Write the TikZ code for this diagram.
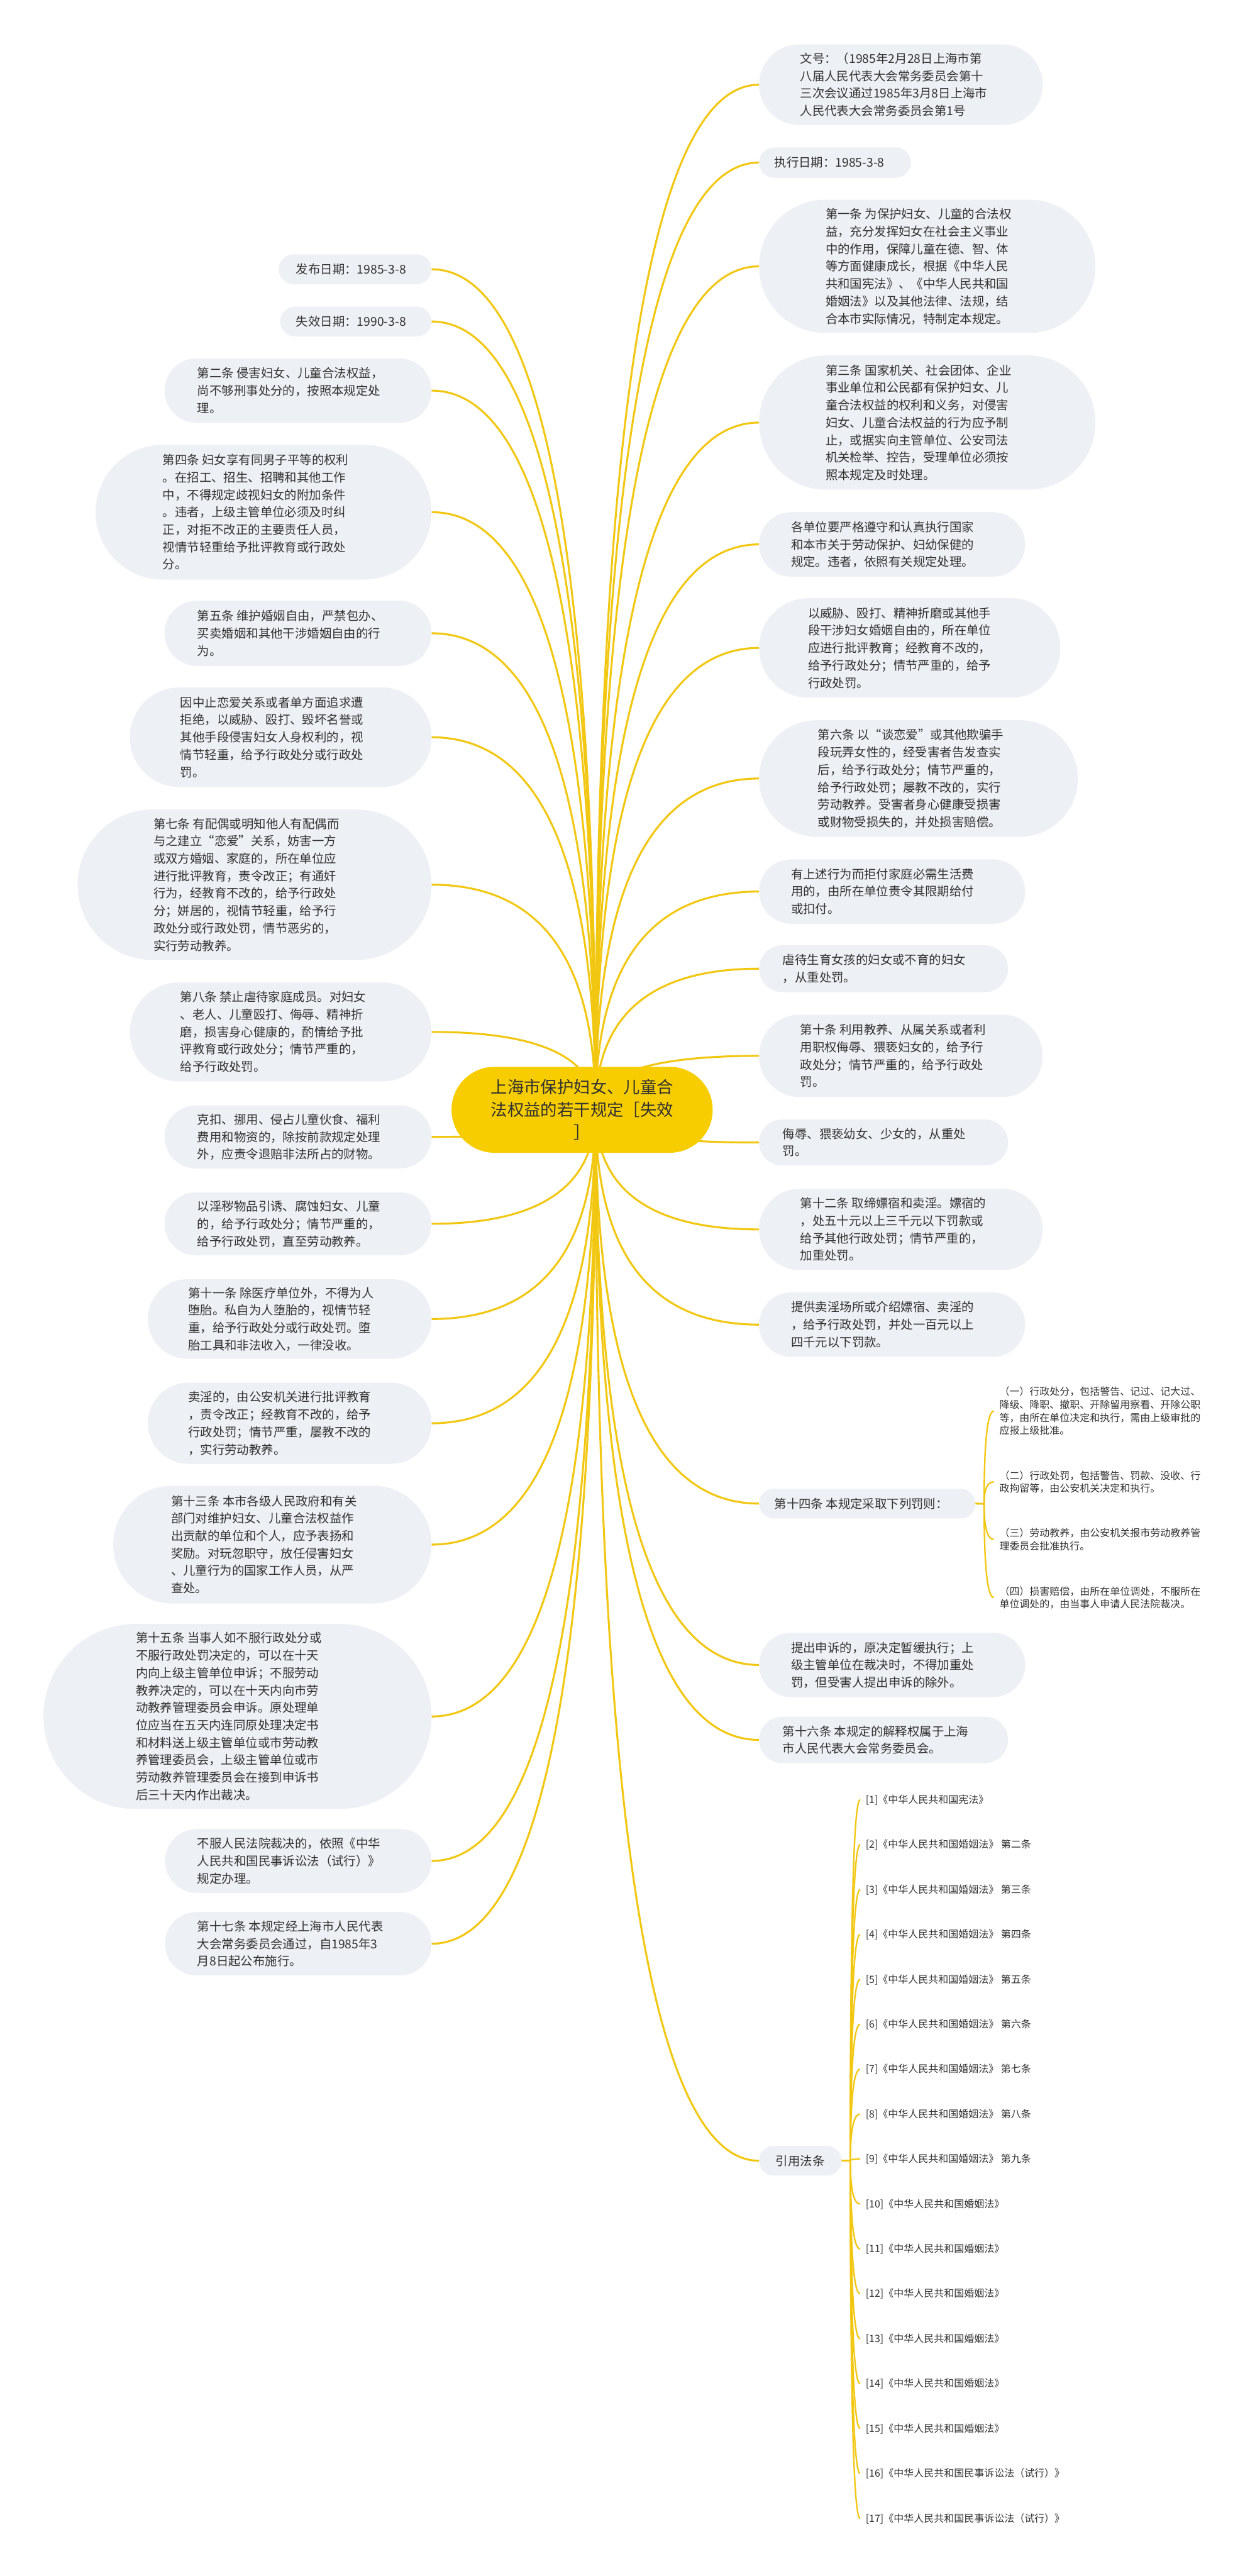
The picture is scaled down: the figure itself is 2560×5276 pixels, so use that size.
\documentclass[tikz,border=0pt]{standalone}
\usepackage{fontspec}
\setmainfont{Noto Sans CJK SC}
\usetikzlibrary{calc}
\definecolor{lnk}{RGB}{242,199,18}
\definecolor{rootfill}{RGB}{247,205,0}
\definecolor{boxc}{RGB}{237,240,244}
\definecolor{txtc}{RGB}{50,50,50}
\pgfdeclarelayer{back}
\pgfdeclarelayer{bg}
\pgfsetlayers{back,bg,main}
\tikzset{
  boxnode/.style={shape=rectangle,inner sep=0pt,outer sep=0pt},
  bodytext/.style={inner sep=0pt,align=left,text=txtc,font=\fontsize{12.5pt}{17.85pt}\selectfont},
  roottext/.style={inner sep=0pt,align=center,text=txtc,font=\fontsize{17pt}{23pt}\selectfont},
  smalltext/.style={inner xsep=5.5pt,inner ysep=0pt,align=left,text=txtc,font=\fontsize{10.3pt}{13.25pt}\selectfont,anchor=west},
  link/.style={draw=lnk,line width=2pt},
  sublink/.style={draw=lnk,line width=1.5pt},
}
\newcommand\tw[1]{\rule{0pt}{0.88em}#1\rule[-0.12em]{0pt}{0.12em}}
\newcommand\mbx[7]{%
  \pgfmathsetmacro\pbr{(#5-#3)*0.2495}%
  \node[boxnode,minimum width={(#4-#2)*0.5pt},minimum height={(#5-#3)*0.5pt}] (#1) at ({(#2+#4)/2},{(#3+#5)/2}) {};
  \fill[boxc,rounded corners=\pbr pt] (#1.south west) rectangle (#1.north east);
  \node[bodytext,anchor=west] (#1t) at (#6,{(#3+#5)/2}) {\tw{#7}};
}
\newcommand\lcn[1]{%
  \coordinate (q) at (R |- #1.east);
  \draw[link] (R) .. controls ($(R)!2/3!(q)$) and ($(#1.east)!2/3!(q)$) .. (#1.east);
}
\newcommand\rcn[1]{%
  \coordinate (q) at (R |- #1.west);
  \draw[link] (R) .. controls ($(R)!2/3!(q)$) and ($(#1.west)!2/3!(q)$) .. (#1.west);
}
\newcommand\bcn[3]{%
  \coordinate (q) at (#2 |- #3.west);
  \draw[sublink] (#1) -- (#2) .. controls ($(#2)!2/3!(q)$) and ($(#3.west)!2/3!(q)$) .. (#3.west);
}
\begin{document}
\begin{tikzpicture}[x=0.5pt,y=-0.5pt]
\useasboundingbox (0,0) rectangle (2560,5276);
\begin{pgfonlayer}{back}
\fill[white] (0,0) rectangle (2560,5276);
\end{pgfonlayer}

% root
\node[boxnode,minimum width=267.5pt,minimum height=88pt] (root) at (1192.5,2273) {};
\fill[rootfill,rounded corners=43.9pt] (root.south west) rectangle (root.north east);
\node[roottext] (roott) at (1192.5,2273) {\tw{上海市保护妇女、儿童合\\法权益的若干规定［失效\\］}};
\coordinate (R) at (1220,2273);

% left side
\mbx{l1}{571}{521}{884}{582}{606}{发布日期：1985-3-8}
\mbx{l2}{574}{628}{884}{689}{606}{失效日期：1990-3-8}
\mbx{l3}{337}{734}{884}{866}{404}{第二条 侵害妇女、儿童合法权益，\\尚不够刑事处分的，按照本规定处\\理。}
\mbx{l4}{196}{911}{884}{1187}{333}{第四条 妇女享有同男子平等的权利\\。在招工、招生、招聘和其他工作\\中，不得规定歧视妇女的附加条件\\。违者，上级主管单位必须及时纠\\正，对拒不改正的主要责任人员，\\视情节轻重给予批评教育或行政处\\分。}
\mbx{l5}{337}{1230}{884}{1364}{404}{第五条 维护婚姻自由，严禁包办、\\买卖婚姻和其他干涉婚姻自由的行\\为。}
\mbx{l6}{266}{1408}{884}{1612}{369}{因中止恋爱关系或者单方面追求遭\\拒绝，以威胁、殴打、毁坏名誉或\\其他手段侵害妇女人身权利的，视\\情节轻重，给予行政处分或行政处\\罚。}
\mbx{l7}{159}{1658}{884}{1966}{314}{第七条 有配偶或明知他人有配偶而\\与之建立“恋爱”关系，妨害一方\\或双方婚姻、家庭的，所在单位应\\进行批评教育，责令改正；有通奸\\行为，经教育不改的，给予行政处\\分；姘居的，视情节轻重，给予行\\政处分或行政处罚，情节恶劣的，\\实行劳动教养。}
\mbx{l8}{266}{2012}{884}{2215}{369}{第八条 禁止虐待家庭成员。对妇女\\、老人、儿童殴打、侮辱、精神折\\磨，损害身心健康的，酌情给予批\\评教育或行政处分；情节严重的，\\给予行政处罚。}
\mbx{l9}{337}{2264}{884}{2393}{404}{克扣、挪用、侵占儿童伙食、福利\\费用和物资的，除按前款规定处理\\外，应责令退赔非法所占的财物。}
\mbx{l10}{337}{2442}{884}{2571}{404}{以淫秽物品引诱、腐蚀妇女、儿童\\的，给予行政处分；情节严重的，\\给予行政处罚，直至劳动教养。}
\mbx{l11}{303}{2620}{884}{2783}{385}{第十一条 除医疗单位外，不得为人\\堕胎。私自为人堕胎的，视情节轻\\重，给予行政处分或行政处罚。堕\\胎工具和非法收入，一律没收。}
\mbx{l12}{303}{2832}{884}{2998}{385}{卖淫的，由公安机关进行批评教育\\，责令改正；经教育不改的，给予\\行政处罚；情节严重，屡教不改的\\，实行劳动教养。}
\mbx{l13}{232}{3043}{884}{3284}{350}{第十三条 本市各级人民政府和有关\\部门对维护妇女、儿童合法权益作\\出贡献的单位和个人，应予表扬和\\奖励。对玩忽职守，放任侵害妇女\\、儿童行为的国家工作人员，从严\\查处。}
\mbx{l14}{89}{3326}{884}{3705}{278}{第十五条 当事人如不服行政处分或\\不服行政处罚决定的，可以在十天\\内向上级主管单位申诉；不服劳动\\教养决定的，可以在十天内向市劳\\动教养管理委员会申诉。原处理单\\位应当在五天内连同原处理决定书\\和材料送上级主管单位或市劳动教\\养管理委员会，上级主管单位或市\\劳动教养管理委员会在接到申诉书\\后三十天内作出裁决。}
\mbx{l15}{338}{3746}{884}{3877}{404}{不服人民法院裁决的，依照《中华\\人民共和国民事诉讼法（试行）》\\规定办理。}
\mbx{l16}{338}{3916}{884}{4046}{404}{第十七条 本规定经上海市人民代表\\大会常务委员会通过，自1985年3\\月8日起公布施行。}

% right side
\mbx{r1}{1555}{91}{2136}{256}{1639}{文号：（1985年2月28日上海市第\\八届人民代表大会常务委员会第十\\三次会议通过1985年3月8日上海市\\人民代表大会常务委员会第1号}
\mbx{r2}{1555}{302}{1866}{364}{1586}{执行日期：1985-3-8}
\mbx{r3}{1555}{409}{2244}{682}{1691}{第一条 为保护妇女、儿童的合法权\\益，充分发挥妇女在社会主义事业\\中的作用，保障儿童在德、智、体\\等方面健康成长，根据《中华人民\\共和国宪法》、《中华人民共和国\\婚姻法》以及其他法律、法规，结\\合本市实际情况，特制定本规定。}
\mbx{r4}{1555}{728}{2244}{1003}{1691}{第三条 国家机关、社会团体、企业\\事业单位和公民都有保护妇女、儿\\童合法权益的权利和义务，对侵害\\妇女、儿童合法权益的行为应予制\\止，或据实向主管单位、公安司法\\机关检举、控告，受理单位必须按\\照本规定及时处理。}
\mbx{r5}{1555}{1049}{2100}{1181}{1620}{各单位要严格遵守和认真执行国家\\和本市关于劳动保护、妇幼保健的\\规定。违者，依照有关规定处理。}
\mbx{r6}{1555}{1225}{2172}{1429}{1655}{以威胁、殴打、精神折磨或其他手\\段干涉妇女婚姻自由的，所在单位\\应进行批评教育；经教育不改的，\\给予行政处分；情节严重的，给予\\行政处罚。}
\mbx{r7}{1555}{1475}{2208}{1714}{1675}{第六条 以“谈恋爱”或其他欺骗手\\段玩弄女性的，经受害者告发查实\\后，给予行政处分；情节严重的，\\给予行政处罚；屡教不改的，实行\\劳动教养。受害者身心健康受损害\\或财物受损失的，并处损害赔偿。}
\mbx{r8}{1555}{1760}{2100}{1892}{1620}{有上述行为而拒付家庭必需生活费\\用的，由所在单位责令其限期给付\\或扣付。}
\mbx{r9}{1555}{1936}{2065}{2032}{1603}{虐待生育女孩的妇女或不育的妇女\\，从重处罚。}
\mbx{r10}{1555}{2078}{2136}{2247}{1639}{第十条 利用教养、从属关系或者利\\用职权侮辱、猥亵妇女的，给予行\\政处分；情节严重的，给予行政处\\罚。}
\mbx{r11}{1555}{2293}{2065}{2387}{1603}{侮辱、猥亵幼女、少女的，从重处\\罚。}
\mbx{r12}{1555}{2435}{2136}{2601}{1639}{第十二条 取缔嫖宿和卖淫。嫖宿的\\，处五十元以上三千元以下罚款或\\给予其他行政处罚；情节严重的，\\加重处罚。}
\mbx{r13}{1555}{2647}{2100}{2779}{1620}{提供卖淫场所或介绍嫖宿、卖淫的\\，给予行政处罚，并处一百元以上\\四千元以下罚款。}
\mbx{r14}{1555}{3049}{1998}{3110}{1586}{第十四条 本规定采取下列罚则：}
\mbx{r15}{1555}{3344}{2100}{3476}{1620}{提出申诉的，原决定暂缓执行；上\\级主管单位在裁决时，不得加重处\\罚，但受害人提出申诉的除外。}
\mbx{r16}{1555}{3516}{2065}{3611}{1603}{第十六条 本规定的解释权属于上海\\市人民代表大会常务委员会。}
\mbx{r17}{1555}{4395}{1724}{4456}{1589}{引用法条}

% sub items of 第十四条
\coordinate (j14) at (2016,3080);
\node[smalltext] (s1) at (2036,2890) {\tw{（一）行政处分，包括警告、记过、记大过、\\降级、降职、撤职、开除留用察看、开除公职\\等，由所在单位决定和执行，需由上级审批的\\应报上级批准。}};
\node[smalltext] (s2) at (2036,3035) {\tw{（二）行政处罚，包括警告、罚款、没收、行\\政拘留等，由公安机关决定和执行。}};
\node[smalltext] (s3) at (2036,3153) {\tw{（三）劳动教养，由公安机关报市劳动教养管\\理委员会批准执行。}};
\node[smalltext] (s4) at (2036,3272) {\tw{（四）损害赔偿，由所在单位调处，不服所在\\单位调处的，由当事人申请人民法院裁决。}};

% references
\coordinate (jr) at (1742,4425);
\node[smalltext] (f1) at (1762,3686) {\tw{[1]《中华人民共和国宪法》}};
\node[smalltext] (f2) at (1762,3778) {\tw{[2]《中华人民共和国婚姻法》 第二条}};
\node[smalltext] (f3) at (1762,3870) {\tw{[3]《中华人民共和国婚姻法》 第三条}};
\node[smalltext] (f4) at (1762,3962) {\tw{[4]《中华人民共和国婚姻法》 第四条}};
\node[smalltext] (f5) at (1762,4054) {\tw{[5]《中华人民共和国婚姻法》 第五条}};
\node[smalltext] (f6) at (1762,4146) {\tw{[6]《中华人民共和国婚姻法》 第六条}};
\node[smalltext] (f7) at (1762,4238) {\tw{[7]《中华人民共和国婚姻法》 第七条}};
\node[smalltext] (f8) at (1762,4330) {\tw{[8]《中华人民共和国婚姻法》 第八条}};
\node[smalltext] (f9) at (1762,4422) {\tw{[9]《中华人民共和国婚姻法》 第九条}};
\node[smalltext] (f10) at (1762,4514) {\tw{[10]《中华人民共和国婚姻法》}};
\node[smalltext] (f11) at (1762,4606) {\tw{[11]《中华人民共和国婚姻法》}};
\node[smalltext] (f12) at (1762,4698) {\tw{[12]《中华人民共和国婚姻法》}};
\node[smalltext] (f13) at (1762,4790) {\tw{[13]《中华人民共和国婚姻法》}};
\node[smalltext] (f14) at (1762,4882) {\tw{[14]《中华人民共和国婚姻法》}};
\node[smalltext] (f15) at (1762,4974) {\tw{[15]《中华人民共和国婚姻法》}};
\node[smalltext] (f16) at (1762,5066) {\tw{[16]《中华人民共和国民事诉讼法（试行）》}};
\node[smalltext] (f17) at (1762,5158) {\tw{[17]《中华人民共和国民事诉讼法（试行）》}};

\begin{pgfonlayer}{bg}
\foreach \n in {l1,l2,l3,l4,l5,l6,l7,l8,l9,l10,l11,l12,l13,l14,l15,l16} {\lcn{\n}}
\foreach \n in {r1,r2,r3,r4,r5,r6,r7,r8,r9,r10,r11,r12,r13,r14,r15,r16,r17} {\rcn{\n}}
\foreach \n in {s1,s2,s3,s4} {\bcn{r14.east}{j14}{\n}}
\foreach \n in {f1,f2,f3,f4,f5,f6,f7,f8,f9,f10,f11,f12,f13,f14,f15,f16,f17} {\bcn{r17.east}{jr}{\n}}
\end{pgfonlayer}
\end{tikzpicture}
\end{document}
